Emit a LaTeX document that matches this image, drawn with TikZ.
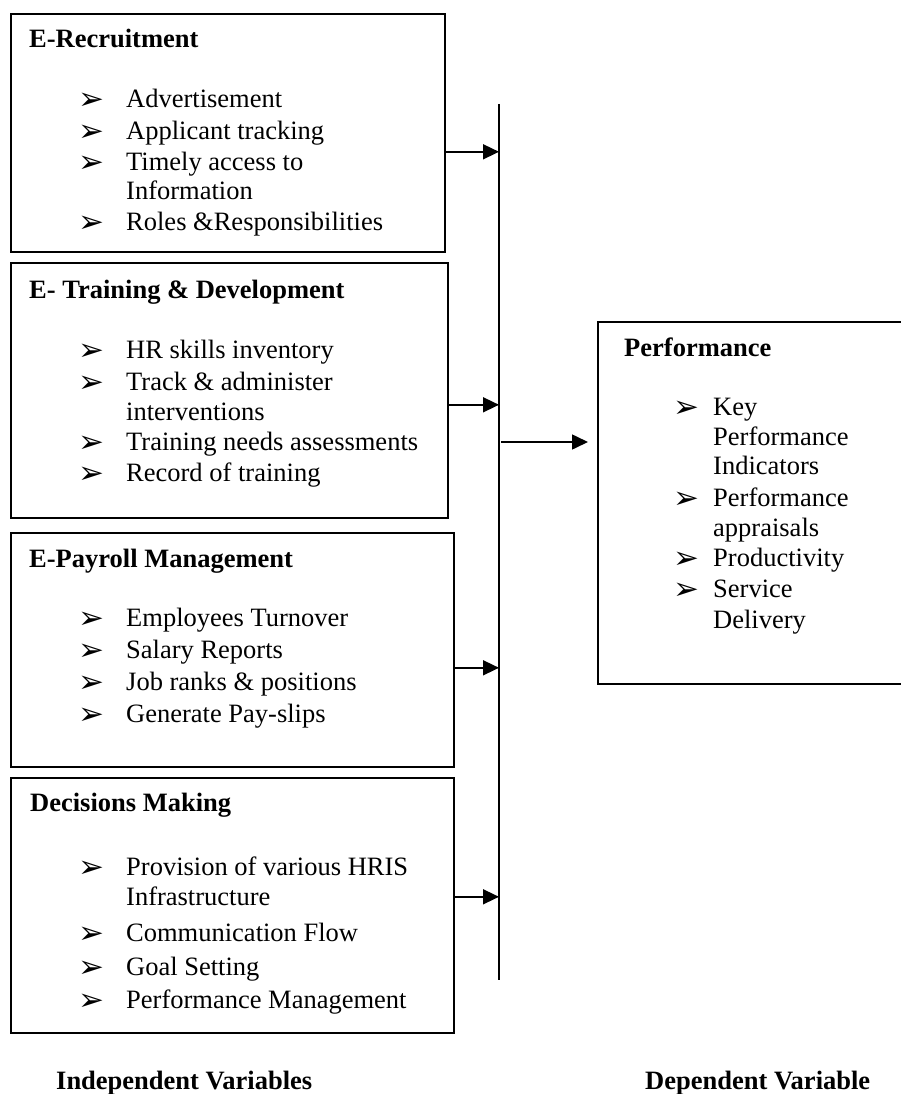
\documentclass[tikz,border=0pt]{standalone}
\usepackage{fontspec}
\setmainfont{Liberation Serif}
\newfontfamily\dingfont{DejaVu Sans}
\usetikzlibrary{arrows.meta, positioning}

\tikzset{
  box/.style={draw, rectangle, line width=1.6pt, anchor=north west, inner sep=0pt},
  head/.style={anchor=base west, inner sep=0pt, font=\fontsize{26.5}{31}\selectfont\bfseries},
  item/.style={anchor=base west, inner sep=0pt, font=\fontsize{26.5}{31}\selectfont},
  tick/.style={anchor=base west, inner sep=0pt, font=\fontsize{31}{34}\selectfont\dingfont},
  feed/.style={-{Triangle[length=16pt, width=15pt]}, line width=1.6pt},
}

\begin{document}
\begin{tikzpicture}[x=1pt, y=-1pt]
  \useasboundingbox (0,0) rectangle (900,1094);

  % independent variables
  \node (recruit) [box, minimum width=434, minimum height=238] at (10,13) {};
  \node (training) [box, minimum width=437, minimum height=255] at (10,262) {};
  \node (payroll) [box, minimum width=443, minimum height=234] at (10,532) {};
  \node (decide) [box, minimum width=443, minimum height=255] at (10,777) {};

  \node (recruithead) [head] at (29,48) {E-Recruitment};
  \foreach \y/\t in {108/Advertisement, 140/Applicant tracking, 171/Timely access to, 200/Information, 230/Roles \&Responsibilities}
    \node [item] at (126,\y) {\t};
  \foreach \y in {108,140,171,230}
    \node [tick] at (78,\y+2) {➢};

  \node (traininghead) [head] at (29,298) {E- Training \& Development};
  \foreach \y/\t in {358/HR skills inventory, 390/Track \& administer, 420/interventions, 450/Training needs assessments, 481/Record of training}
    \node [item] at (126,\y) {\t};
  \foreach \y in {358,390,450,481}
    \node [tick] at (78,\y+2) {➢};

  \node (payrollhead) [head] at (29,567) {E-Payroll Management};
  \foreach \y/\t in {626/Employees Turnover, 658/Salary Reports, 690/Job ranks \& positions, 722/Generate Pay-slips}
    \node [item] at (126,\y) {\t};
  \foreach \y in {626,658,690,722}
    \node [tick] at (78,\y+2) {➢};

  \node (decidehead) [head] at (30,811) {Decisions Making};
  \foreach \y/\t in {875/Provision of various HRIS, 905/Infrastructure, 941/Communication Flow, 975/Goal Setting, 1008/Performance Management}
    \node [item] at (126,\y) {\t};
  \foreach \y in {875,941,975,1008}
    \node [tick] at (78,\y+2) {➢};

  % dependent variable
  \node (perf) [box, minimum width=330, minimum height=362] at (597,321) {};
  \node (perfhead) [head] at (624,356) {Performance};
  \foreach \y/\t in {415/Key, 445/Performance, 474/Indicators, 506/Performance, 536/appraisals, 566/Productivity, 597/Service, 628/Delivery}
    \node [item] at (713,\y) {\t};
  \foreach \y in {415,506,566,597}
    \node [tick] at (673,\y+2) {➢};

  % collecting line and arrows
  \coordinate (bustop) at (499,104);
  \coordinate (busend) at (499,980);
  \draw [line width=1.6pt] (bustop) -- (busend);

  \coordinate (r1) at ([yshift=-19pt]recruit.east);
  \coordinate (r2) at ([yshift=-14.5pt]training.east);
  \coordinate (r3) at ([yshift=-18pt]payroll.east);
  \coordinate (r4) at ([yshift=8.5pt]decide.east);
  \foreach \r in {r1,r2,r3,r4}
    \draw [feed] (\r) -- (\r -| bustop);

  \coordinate (hub) at (501,442);
  \draw [feed, shorten >=9pt] (hub) -- (hub -| perf.west);

  \node (indep) [head] at (56,1089) {Independent Variables};
  \node (dep) [head] at (645,1089) {Dependent Variable};
\end{tikzpicture}
\end{document}
